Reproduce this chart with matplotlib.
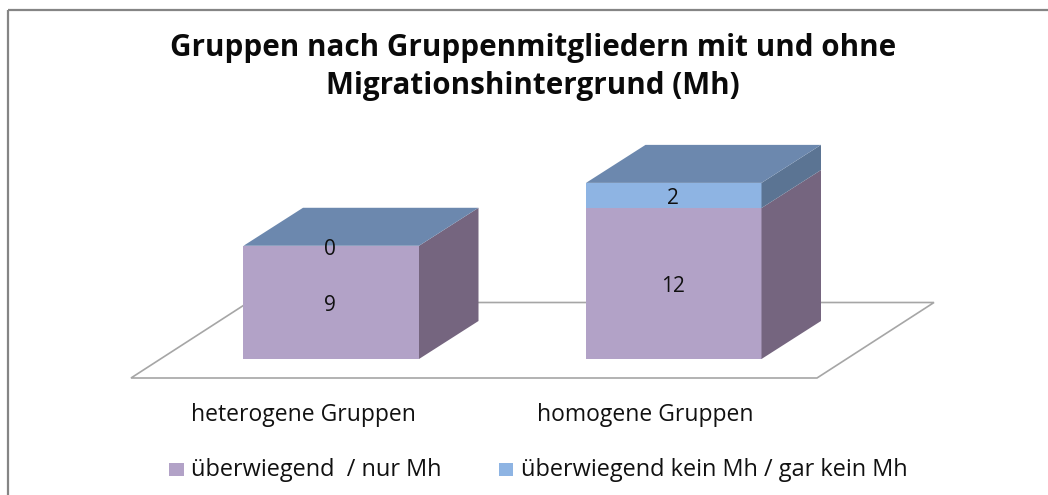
import matplotlib
matplotlib.use('Agg')
import matplotlib.pyplot as plt
from matplotlib.patches import Polygon, Rectangle

plt.rcParams['font.family'] = ['Open Sans', 'DejaVu Sans']

title_lines = 'Gruppen nach Gruppenmitgliedern mit und ohne\nMigrationshintergrund (Mh)'
categories = ['heterogene Gruppen', 'homogene Gruppen']
series_names = ['überwiegend  / nur Mh', 'überwiegend kein Mh / gar kein Mh']
mostly_mh = [9, 12]
mostly_no_mh = [0, 2]

purple = '#B2A2C7'
blue = '#8EB4E3'
purple_side = '#75657F'
blue_side = '#5B7493'
top_color = '#6C88AE'

# pixel scale of the picture
W, H = 1048, 495
PX_PER_CAT = 342.5
PX_PER_UNIT = 12.58
X_ZERO = 331.25
Y_ZERO = 359.0
BAR_WIDTH = 175.5 / PX_PER_CAT
DEPTH_X = 59.5 / PX_PER_CAT
DEPTH_Y = 38.0 / PX_PER_UNIT

fig = plt.figure(figsize=(W / 100, H / 100), dpi=100)

# frame, floor, title, labels and legend are placed in pixels
deco = fig.add_axes([0, 0, 1, 1])
deco.set_xlim(0, W)
deco.set_ylim(H, 0)
deco.axis('off')

deco.plot([8, 8], [H, 10], color='#858585', lw=1.6, solid_capstyle='butt')
deco.plot([8, W], [10, 10], color='#858585', lw=1.6, solid_capstyle='butt')
deco.add_patch(Polygon([(131, 378), (817, 378), (934, 302.5), (248, 302.5)],
                       closed=True, facecolor='white', edgecolor='#A6A6A6', lw=1.2))

deco.text(533, 67, title_lines, ha='center', va='center', fontsize=21.3,
          fontweight='bold', color='#0A0A0A', linespacing=1.36)

for name_x, name in zip([303, 645], categories):
    deco.text(name_x, 415, name, ha='center', va='center', fontsize=16.5, color='#111111')

deco.add_patch(Rectangle((169, 463), 15, 12.5, facecolor=purple, edgecolor='none'))
deco.text(191, 470, series_names[0], ha='left', va='center', fontsize=16.9, color='#111111')
deco.add_patch(Rectangle((499, 463), 14, 12.5, facecolor=blue, edgecolor='none'))
deco.text(521, 470, series_names[1], ha='left', va='center', fontsize=16.9, color='#111111')

# bars in value units
ax = fig.add_axes([0, 0, 1, 1], facecolor='none')
ax.set_xlim(-X_ZERO / PX_PER_CAT, (W - X_ZERO) / PX_PER_CAT)
ax.set_ylim((Y_ZERO - H) / PX_PER_UNIT, Y_ZERO / PX_PER_UNIT)
ax.axis('off')

positions = range(len(categories))
ax.bar(positions, mostly_mh, width=BAR_WIDTH, color=purple, linewidth=0)
ax.bar(positions, mostly_no_mh, width=BAR_WIDTH, bottom=mostly_mh, color=blue, linewidth=0)

for i in positions:
    right = i + BAR_WIDTH / 2
    left = i - BAR_WIDTH / 2
    low = mostly_mh[i]
    total = low + mostly_no_mh[i]

    # right hand faces, then the lid
    ax.add_patch(Polygon([(right, 0), (right + DEPTH_X, DEPTH_Y),
                          (right + DEPTH_X, low + DEPTH_Y), (right, low)],
                         closed=True, facecolor=purple_side, edgecolor='none'))
    if mostly_no_mh[i] > 0:
        ax.add_patch(Polygon([(right, low), (right + DEPTH_X, low + DEPTH_Y),
                              (right + DEPTH_X, total + DEPTH_Y), (right, total)],
                             closed=True, facecolor=blue_side, edgecolor='none'))
    ax.add_patch(Polygon([(left, total), (right, total),
                          (right + DEPTH_X, total + DEPTH_Y), (left + DEPTH_X, total + DEPTH_Y)],
                         closed=True, facecolor=top_color, edgecolor='none'))

    ax.text(i - 0.003, low / 2 - 0.26, str(low), ha='center', va='center', fontsize=15, color='#111111')
    ax.text(i - 0.003, low + mostly_no_mh[i] / 2 - 0.26, str(mostly_no_mh[i]), ha='center', va='center',
            fontsize=15, color='#111111')

fig.savefig('out.png', dpi=100)
